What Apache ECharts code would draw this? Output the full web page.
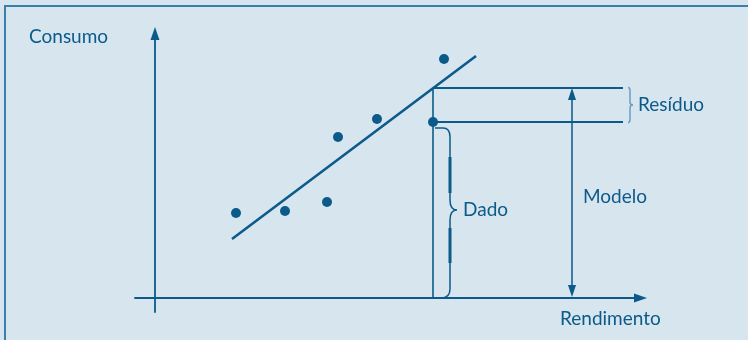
<!DOCTYPE html>
<html><head><meta charset="utf-8">
<script src="https://cdn.jsdelivr.net/npm/echarts@6/dist/echarts.min.js"></script>
<style>html,body{margin:0;padding:0;background:#d7e5ef}#c{width:748px;height:340px}</style>
</head><body><div id="c"></div>
<script>
// ---- data (arbitrary units) ----
const axisNames = ['Rendimento', 'Consumo'];
const obsX = [8.1, 13.0, 17.2, 18.3, 22.2, 28.9, 27.8];
const obsY = [8.5, 8.7, 9.6, 16.1, 17.9, 23.9, 17.6];
const fitX = [7.7, 32.1];
const fitY = [5.9, 24.2];
const focusX = 27.8;     // highlighted observation (rendimento)
const focusObs = 17.6;   // observed consumo ("Dado")
const focusFit = 21.0;   // fitted consumo ("Modelo")
const guideEndX = 46.8;
const modelArrowX = 41.7;
const labelTexts = ['Resíduo', 'Modelo', 'Dado'];

const DARK = '#0b5a8a', LIGHT = '#6d9dc2', BG = '#d7e5ef', BORDER = '#3d7fab';
const FONT = 'Lato';

const chart = echarts.init(document.getElementById('c'));

function renderModelArrow(params, api) {
  const a = api.coord([api.value(0), api.value(1)]);
  const b = api.coord([api.value(0), api.value(2)]);
  const hw = 4, hl = 12;
  const ay = a[1] - 1;
  return {type: 'group', children: [
    {type: 'line', shape: {x1: a[0], y1: ay - hl + 1, x2: b[0], y2: b[1] + hl - 1}, style: {stroke: DARK, lineWidth: 1.5}},
    {type: 'polygon', shape: {points: [[b[0], b[1]], [b[0] - hw, b[1] + hl], [b[0] + hw, b[1] + hl]]}, style: {fill: DARK}},
    {type: 'polygon', shape: {points: [[a[0], ay], [a[0] - hw, ay - hl], [a[0] + hw, ay - hl]]}, style: {fill: DARK}}
  ]};
}

function renderDadoBrace(params, api) {
  const t = api.coord([api.value(0), api.value(1)]);
  const b = api.coord([api.value(0), api.value(2)]);
  const x0 = t[0], yT = t[1] + 6, yB = b[1];
  const xb = x0 + 17, mid = (t[1] + yB) / 2;
  const d = `M${x0 + 2} ${yT} L${x0 + 10} ${yT} Q${xb} ${yT} ${xb} ${yT + 9} L${xb} ${mid - 10} Q${xb} ${mid} ${xb + 7} ${mid} Q${xb} ${mid} ${xb} ${mid + 10} L${xb} ${yB - 9} Q${xb} ${yB} ${xb - 9} ${yB}`;
  return {type: 'group', children: [
    {type: 'path', shape: {pathData: d}, style: {stroke: DARK, lineWidth: 1.5, fill: null}},
    {type: 'line', shape: {x1: xb, y1: mid - 53, x2: xb, y2: mid - 17}, style: {stroke: DARK, lineWidth: 3}},
    {type: 'line', shape: {x1: xb, y1: mid + 18, x2: xb, y2: mid + 53}, style: {stroke: DARK, lineWidth: 3}}
  ]};
}

function renderResiduoBrace(params, api) {
  const t = api.coord([api.value(0), api.value(1)]);
  const b = api.coord([api.value(0), api.value(2)]);
  const x = t[0] + 5, yT = t[1] - 0.5, yB = b[1] + 0.5, mid = (yT + yB) / 2;
  const d = `M${x} ${yT} Q${x + 2} ${yT} ${x + 2} ${yT + 3} L${x + 2} ${mid - 3} Q${x + 2} ${mid} ${x + 5} ${mid} Q${x + 2} ${mid} ${x + 2} ${mid + 3} L${x + 2} ${yB - 3} Q${x + 2} ${yB} ${x} ${yB}`;
  return {type: 'path', shape: {pathData: d}, style: {stroke: LIGHT, lineWidth: 1.5, fill: null}};
}

const txt = (text, x, y) => ({type: 'text', left: x, top: y, style: {text, fill: DARK, font: `19px ${FONT}`, textVerticalAlign: 'middle'}});

chart.setOption({
  backgroundColor: BG,
  animation: false,
  grid: {left: 135, right: 107.5, top: 33.5, bottom: 28},
  xAxis: {
    type: 'value', min: -2, max: 48.55, name: '',
    axisLine: {show: true, onZero: true, symbol: ['none', 'triangle'], symbolSize: [9, 13], lineStyle: {color: DARK, width: 1.8}},
    axisTick: {show: false}, axisLabel: {show: false}, splitLine: {show: false}
  },
  yAxis: {
    type: 'value', min: -1.4, max: 26.45, name: '',
    axisLine: {show: true, onZero: true, symbol: ['none', 'triangle'], symbolSize: [9, 13], lineStyle: {color: DARK, width: 1.8}},
    axisTick: {show: false}, axisLabel: {show: false}, splitLine: {show: false}
  },
  graphic: [
    {type: 'line', shape: {x1: 5, y1: 5, x2: 5, y2: 340}, style: {stroke: BORDER, lineWidth: 2}},
    {type: 'line', shape: {x1: 4, y1: 6, x2: 748, y2: 6}, style: {stroke: BORDER, lineWidth: 2}},
    {type: 'text', left: 29, top: 27, style: {text: axisNames[1], fill: DARK, font: `19px ${FONT}`}},
    {type: 'text', left: 560, top: 309, style: {text: axisNames[0], fill: DARK, font: `19px ${FONT}`}},
    {type: 'text', left: 638, top: 95, style: {text: labelTexts[0], fill: DARK, font: `19px ${FONT}`}},
    {type: 'text', left: 583, top: 187, style: {text: labelTexts[1], fill: DARK, font: `19px ${FONT}`}},
    {type: 'text', left: 463, top: 200, style: {text: labelTexts[2], fill: DARK, font: `19px ${FONT}`}}
  ],
  series: [
    {type: 'line', data: [[focusX, focusFit], [guideEndX, focusFit]], showSymbol: false, lineStyle: {color: DARK, width: 1.8}, silent: true, z: 2},
    {type: 'line', data: [[focusX, focusObs], [guideEndX, focusObs]], showSymbol: false, lineStyle: {color: DARK, width: 1.8}, silent: true, z: 2},
    {type: 'line', data: [[focusX, 0], [focusX, focusFit]], showSymbol: false, lineStyle: {color: DARK, width: 1.6}, silent: true, z: 2},
    {type: 'line', data: fitX.map((x, i) => [x, fitY[i]]), showSymbol: false, lineStyle: {color: DARK, width: 2.6}, silent: true, z: 3},
    {type: 'custom', renderItem: renderModelArrow, data: [[modelArrowX, 0, focusFit]], silent: true, z: 3},
    {type: 'custom', renderItem: renderDadoBrace, data: [[focusX, focusObs, 0]], silent: true, z: 3},
    {type: 'custom', renderItem: renderResiduoBrace, data: [[guideEndX, focusFit, focusObs]], silent: true, z: 3},
    {type: 'scatter', data: obsX.map((x, i) => [x, obsY[i]]), symbolSize: 10, itemStyle: {color: DARK, opacity: 1}, silent: true, z: 5}
  ]
});
</script></body></html>
